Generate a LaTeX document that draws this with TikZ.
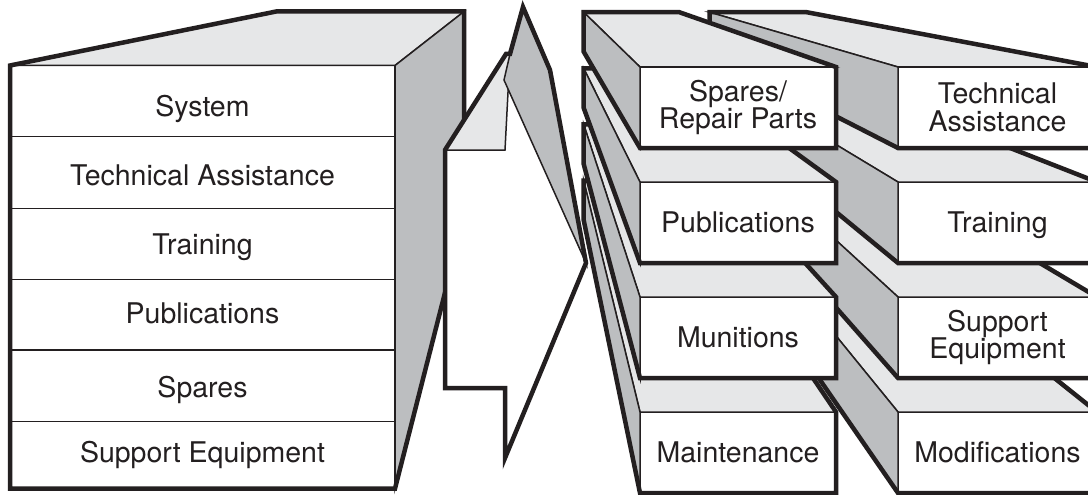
\documentclass[tikz,border=0pt]{standalone}
\usepackage{fontspec}
\setmainfont{TeX Gyre Heros}
\usetikzlibrary{calc}
\definecolor{ink}{HTML}{231F20}
\definecolor{topg}{HTML}{E6E7E8}
\definecolor{sideg}{HTML}{BCBEC0}
\tikzset{
 thickline/.style={draw=ink, line width=4.5pt, line join=miter},
 thinline/.style={draw=ink, line width=1.5pt, line join=miter},
 lbl/.style={font=\fontsize{28.5}{27.5}\selectfont, text=ink, inner sep=0pt, text height=20.5pt, text depth=0pt},
 lbltwo/.style={font=\fontsize{28.5}{27.5}\selectfont, text=ink, inner sep=0pt, align=center},
}
\newcommand\fk{0.512}
\newcommand\rbox[7]{%
 \coordinate (#5ftl) at (#1,#3);
 \coordinate (#5ftr) at (#2,#3);
 \coordinate (#5fbr) at (#2,#4);
 \coordinate (#5fbl) at (#1,#4);
 \coordinate (#5btl) at ($(#5ftl)!\fk!(vp)$);
 \coordinate (#5btr) at ($(#5ftr)!\fk!(vp)$);
 \coordinate (#5bbl) at ($(#5fbl)!\fk!(vp)$);
 \filldraw[fill=white,thinline] (#5ftl) -- (#5ftr) -- (#5fbr) -- (#5fbl) -- cycle;
 \filldraw[fill=topg,thinline] (#5btl) -- (#5btr) -- (#5ftr) -- (#5ftl) -- cycle;
 \filldraw[fill=sideg,thinline] (#5btl) -- (#5ftl) -- (#5fbl) -- (#5bbl) -- cycle;
 \draw[thickline] (#5bbl) -- (#5btl) -- (#5btr) -- (#5ftr) -- (#5fbr) -- (#5fbl) -- cycle;
 \node[#7] (#5) at ($(#5ftl)!0.5!(#5fbr)$) {#6};
}
\begin{document}
\begin{tikzpicture}[x=1pt,y=-1pt]
\useasboundingbox (0,0) rectangle (1088,495);
\clip (0,0) rectangle (1088,495);
\fill[white] (0,0) rectangle (1088,495);
\coordinate (vp) at (530,-40);

% column B (right), bottom to top
\rbox{898}{1097}{412}{493}{bfour}{Modifications}{lbl}
\rbox{898}{1097}{297}{378}{bthree}{Support\\Equipment}{lbltwo}
\rbox{898}{1097}{182}{263}{btwo}{Training}{lbl}
\rbox{898}{1097}{67}{148}{bone}{Technical\\Assistance}{lbltwo}

% column A (left), bottom to top
\rbox{640}{836}{412}{493}{afour}{Maintenance}{lbl}
\rbox{640}{836}{297}{378}{athree}{Munitions}{lbl}
\rbox{640}{836}{182}{263}{atwo}{Publications}{lbl}
\rbox{640}{836}{67}{148}{aone}{Spares/\\Repair Parts}{lbltwo}

% left block
\coordinate (lftl) at (10,65.5);
\coordinate (lftr) at (395,65.5);
\coordinate (lfbr) at (395,488.5);
\coordinate (lfbl) at (10,488.5);
\coordinate (lbtl) at ($(lftl)!\fk!(vp)$);
\coordinate (lbtr) at ($(lftr)!\fk!(vp)$);
\coordinate (lbbr) at ($(lfbr)!\fk!(vp)$);
\filldraw[fill=white,thinline] (lftl) -- (lftr) -- (lfbr) -- (lfbl) -- cycle;
\filldraw[fill=topg,thinline] (lftl) -- (lbtl) -- (lbtr) -- (lftr) -- cycle;
\filldraw[fill=sideg,thinline] (lftr) -- (lbtr) -- (lbbr) -- (lfbr) -- cycle;
\foreach \yy in {136.7,208.3,279.3,350,421.7}
  \draw[thinline] (10,\yy) -- (395,\yy);
\draw[thickline] (lfbl) -- (lftl) -- (lbtl) -- (lbtr) -- (lbbr) -- (lfbr) -- cycle;
\node[lbl] (lsystem) at (202.5,106) {System};
\node[lbl] (ltech) at (202.5,175) {Technical Assistance};
\node[lbl] (ltrain) at (202.5,244) {Training};
\node[lbl] (lpub) at (202.5,313) {Publications};
\node[lbl] (lspares) at (202.5,387) {Spares};
\node[lbl] (lsupport) at (202.5,452) {Support Equipment};

% arrow
\coordinate (a1) at (445,150);
\coordinate (a2) at (506,54);
\coordinate (a3) at (510,54);
\coordinate (a4) at (523,7);
\coordinate (a5) at (550,70);
\coordinate (a6) at (586,263);
\coordinate (a7) at (505,458);
\coordinate (a8) at (505,388);
\coordinate (a9) at (445,388);
\coordinate (a10) at (505,150);
\coordinate (a11) at (504,80);
\fill[white] (a1) -- (a2) -- (a3) -- (a4) -- (a5) -- (a6) -- (a7) -- (a8) -- (a9) -- cycle;
\filldraw[fill=topg,thinline] (a1) -- (a2) -- (a3) -- (a10) -- cycle;
\filldraw[fill=sideg,thinline] (a3) -- (a4) -- (a5) -- (a6) -- (a11) -- cycle;
\draw[thickline] (a1) -- (a2) -- (a3) -- (a4) -- (a5) -- (a6) -- (a7) -- (a8) -- (a9) -- cycle;
\end{tikzpicture}
\end{document}
